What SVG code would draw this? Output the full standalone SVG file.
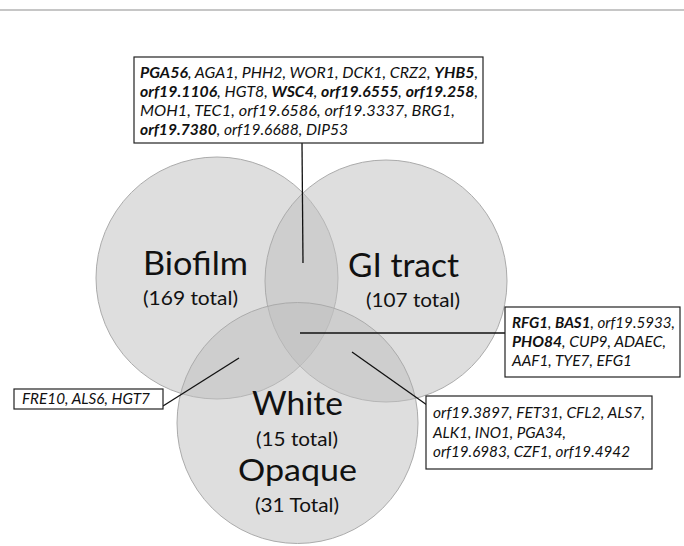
<svg xmlns="http://www.w3.org/2000/svg" width="684" height="546" viewBox="0 0 684 546">
<style>
.c{fill:#bfbfbf;fill-opacity:0.52;stroke:#ababab;stroke-width:1}
.big{font-family:"Lato","Open Sans",sans-serif;font-size:32px;fill:#111}
.tot{font-family:"Lato","Open Sans",sans-serif;font-size:19px;fill:#111}
.box{fill:#fff;stroke:#222;stroke-width:1.2}
.lst{font-family:"Lato","Open Sans",sans-serif;font-size:15px;font-style:italic;fill:#111}
.b{font-weight:bold}
.ln{stroke:#111;stroke-width:1.3;fill:none}
</style>
<rect width="684" height="546" fill="#fff"/>
<line x1="0" y1="10" x2="684" y2="10" stroke="#c6c6c6" stroke-width="2"/>
<g id="biofilm">
<circle class="c" cx="217" cy="278" r="121"/>
<text class="big" x="143" y="275" textLength="105" lengthAdjust="spacingAndGlyphs">Biofilm</text>
<text class="tot" x="143" y="305" textLength="95" lengthAdjust="spacingAndGlyphs">(169 total)</text>
</g>
<g id="gitract">
<circle class="c" cx="386" cy="281" r="121"/>
<text class="big" x="348" y="277" textLength="111" lengthAdjust="spacingAndGlyphs">GI tract</text>
<text class="tot" x="366" y="307" textLength="94" lengthAdjust="spacingAndGlyphs">(107 total)</text>
</g>
<g id="whiteopaque">
<circle class="c" cx="297.5" cy="423" r="120.5"/>
<text class="big" x="252" y="415" textLength="91" lengthAdjust="spacingAndGlyphs">White</text>
<text class="tot" x="256" y="446" textLength="82" lengthAdjust="spacingAndGlyphs">(15 total)</text>
<text class="big" x="238" y="481" style="font-size:31px" textLength="119" lengthAdjust="spacingAndGlyphs">Opaque</text>
<text class="tot" x="255" y="512" textLength="84" lengthAdjust="spacingAndGlyphs">(31 Total)</text>
</g>
<g id="connectors">
<line class="ln" x1="302" y1="143" x2="303" y2="263"/>
<line class="ln" x1="300" y1="333" x2="505" y2="333"/>
<line class="ln" x1="352" y1="352" x2="427" y2="405"/>
<line class="ln" x1="239" y1="358" x2="163" y2="406"/>
</g>
<g id="box-biofilm-gi">
<rect class="box" x="134" y="57" width="349" height="86"/>
<text class="lst" x="140" y="78" textLength="338" lengthAdjust="spacingAndGlyphs"><tspan class="b">PGA56</tspan>, AGA1, PHH2, WOR1, DCK1, CRZ2, <tspan class="b">YHB5</tspan>,</text>
<text class="lst" x="140" y="97" textLength="338" lengthAdjust="spacingAndGlyphs"><tspan class="b">orf19.1106</tspan>, HGT8, <tspan class="b">WSC4</tspan>, <tspan class="b">orf19.6555</tspan>, <tspan class="b">orf19.258</tspan>,</text>
<text class="lst" x="140" y="116" textLength="315" lengthAdjust="spacingAndGlyphs">MOH1, TEC1, orf19.6586, orf19.3337, BRG1,</text>
<text class="lst" x="140" y="135" textLength="208" lengthAdjust="spacingAndGlyphs"><tspan class="b">orf19.7380</tspan>, orf19.6688, DIP53</text>
</g>
<g id="box-all">
<rect class="box" x="505" y="307" width="175" height="70"/>
<text class="lst" x="512" y="328" textLength="163" lengthAdjust="spacingAndGlyphs"><tspan class="b">RFG1</tspan>, <tspan class="b">BAS1</tspan>, orf19.5933,</text>
<text class="lst" x="512" y="347" textLength="154" lengthAdjust="spacingAndGlyphs"><tspan class="b">PHO84</tspan>, CUP9, ADAEC,</text>
<text class="lst" x="512" y="366" textLength="120" lengthAdjust="spacingAndGlyphs">AAF1, TYE7, EFG1</text>
</g>
<g id="box-gi-white">
<rect class="box" x="426" y="396" width="226" height="73"/>
<text class="lst" x="433" y="418" textLength="212" lengthAdjust="spacingAndGlyphs">orf19.3897, FET31, CFL2, ALS7,</text>
<text class="lst" x="433" y="438" textLength="133" lengthAdjust="spacingAndGlyphs">ALK1, INO1, PGA34,</text>
<text class="lst" x="433" y="457" textLength="197" lengthAdjust="spacingAndGlyphs">orf19.6983, CZF1, orf19.4942</text>
</g>
<g id="box-biofilm-white">
<rect class="box" x="14" y="389" width="149" height="20"/>
<text class="lst" x="22" y="404" textLength="128" lengthAdjust="spacingAndGlyphs">FRE10, ALS6, HGT7</text>
</g>
</svg>
